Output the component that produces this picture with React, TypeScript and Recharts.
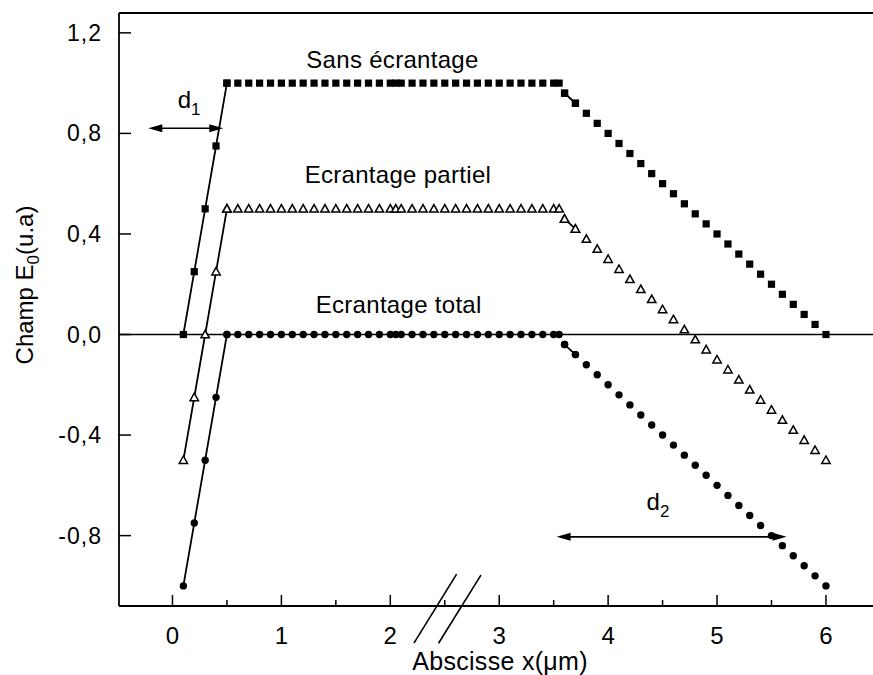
import React from 'react';
import { ScatterChart, Scatter, XAxis, YAxis, ReferenceLine, ReferenceDot } from 'recharts';

// rising edge (0 -> 0.5 µm)
const riseX = [0.1, 0.2, 0.3, 0.4, 0.5];
const riseSans = [0, 0.25, 0.5, 0.75, 1.0];
const risePartiel = [-0.5, -0.25, 0, 0.25, 0.5];
const riseTotal = [-1.0, -0.75, -0.5, -0.25, 0];

// plateau (0.5 -> 3.5 µm)
const plateauX = [
  0.5, 0.6, 0.7, 0.8, 0.9, 1.0, 1.1, 1.2, 1.3, 1.4, 1.5, 1.6, 1.7, 1.8, 1.9, 2.0, 2.05,
  2.1, 2.2, 2.3, 2.4, 2.5, 2.6, 2.7, 2.8, 2.9, 3.0, 3.1, 3.2, 3.3, 3.4, 3.5, 3.55,
];
const plateauSans = [
  1, 1, 1, 1, 1, 1, 1, 1, 1, 1, 1, 1, 1, 1, 1, 1, 1,
  1, 1, 1, 1, 1, 1, 1, 1, 1, 1, 1, 1, 1, 1, 1, 1,
];
const plateauPartiel = [
  0.5, 0.5, 0.5, 0.5, 0.5, 0.5, 0.5, 0.5, 0.5, 0.5, 0.5, 0.5, 0.5, 0.5, 0.5, 0.5, 0.5,
  0.5, 0.5, 0.5, 0.5, 0.5, 0.5, 0.5, 0.5, 0.5, 0.5, 0.5, 0.5, 0.5, 0.5, 0.5, 0.5,
];
const plateauTotal = [
  0, 0, 0, 0, 0, 0, 0, 0, 0, 0, 0, 0, 0, 0, 0, 0, 0,
  0, 0, 0, 0, 0, 0, 0, 0, 0, 0, 0, 0, 0, 0, 0, 0,
];

// falling edge (3.6 -> 6 µm)
const descX = [
  3.6, 3.7, 3.8, 3.9, 4.0, 4.1, 4.2, 4.3, 4.4, 4.5, 4.6, 4.7, 4.8,
  4.9, 5.0, 5.1, 5.2, 5.3, 5.4, 5.5, 5.6, 5.7, 5.8, 5.9, 6.0,
];
const descSans = [
  0.96, 0.92, 0.88, 0.84, 0.8, 0.76, 0.72, 0.68, 0.64, 0.6, 0.56, 0.52, 0.48,
  0.44, 0.4, 0.36, 0.32, 0.28, 0.24, 0.2, 0.16, 0.12, 0.08, 0.04, 0.0,
];
const descPartiel = [
  0.46, 0.42, 0.38, 0.34, 0.3, 0.26, 0.22, 0.18, 0.14, 0.1, 0.06, 0.02, -0.02,
  -0.06, -0.1, -0.14, -0.18, -0.22, -0.26, -0.3, -0.34, -0.38, -0.42, -0.46, -0.5,
];
const descTotal = [
  -0.04, -0.08, -0.12, -0.16, -0.2, -0.24, -0.28, -0.32, -0.36, -0.4, -0.44, -0.48, -0.52,
  -0.56, -0.6, -0.64, -0.68, -0.72, -0.76, -0.8, -0.84, -0.88, -0.92, -0.96, -1.0,
];

const xTicks = [0, 0.5, 1, 1.5, 2, 2.5, 3, 3.5, 4, 4.5, 5, 5.5, 6];
const yTicks = [-0.8, -0.4, 0, 0.4, 0.8, 1.2];
const xDomain = [-0.491, 6.432];
const yDomain = [-1.08, 1.279];

const FONT = '"Liberation Sans", Arial, Helvetica, sans-serif';

const pts = (xs: number[], ys: number[]) => xs.map((x, i) => ({ x, y: ys[i] }));

const Square = (p: any) => <rect x={p.cx - 3.6} y={p.cy - 3.6} width={7.2} height={7.2} fill="#000" />;
const Tri = (p: any) => (
  <polygon
    points={`${p.cx},${p.cy - 4.2} ${p.cx - 4.2},${p.cy + 3.3} ${p.cx + 4.2},${p.cy + 3.3}`}
    fill="#fff"
    stroke="#000"
    strokeWidth={1.5}
  />
);
const Dot = (p: any) => <circle cx={p.cx} cy={p.cy} r={3.7} fill="#000" />;

const XTick = (p: any) => {
  const v = p.payload.value;
  const major = Number.isInteger(v);
  return (
    <g>
      <line x1={p.x} x2={p.x} y1={p.y} y2={p.y - (major ? 11 : 6)} stroke="#000" strokeWidth={1.5} />
      {major && (
        <text x={p.x} y={p.y + 38} textAnchor="middle" fontSize={24} fontFamily={FONT} fill="#000">
          {v}
        </text>
      )}
    </g>
  );
};

const YTick = (p: any) => {
  const v = p.payload.value;
  return (
    <g>
      <line x1={p.x} x2={p.x + 12} y1={p.y} y2={p.y} stroke="#000" strokeWidth={1.5} />
      <text
        x={p.x - 17}
        y={p.y + 8}
        textAnchor="end"
        fontSize={23}
        letterSpacing={1}
        fontFamily={FONT}
        fill="#000"
      >
        {v.toFixed(1).replace('.', ',')}
      </text>
    </g>
  );
};

const arrow = (sub: string, dx: number, dy: number) => (p: any) => {
  const { x1, y1, x2, y2 } = p;
  const L = 14;
  const H = 4;
  return (
    <g>
      <line x1={x1 + 4} y1={y1} x2={x2 - 4} y2={y2} stroke="#000" strokeWidth={1.7} />
      <polygon points={`${x1},${y1} ${x1 + L},${y1 - H} ${x1 + L},${y1 + H}`} fill="#000" />
      <polygon points={`${x2},${y2} ${x2 - L},${y2 - H} ${x2 - L},${y2 + H}`} fill="#000" />
      <text x={(x1 + x2) / 2 + dx} y={y1 + dy} fontSize={24} fontFamily={FONT} fill="#000">
        d
        <tspan fontSize={17} dy={7}>
          {sub}
        </tspan>
      </text>
    </g>
  );
};

const label = (txt: string) => (p: any) => (
  <text x={p.cx} y={p.cy} textAnchor="middle" fontSize={24} letterSpacing={0.3} fontFamily={FONT} fill="#000">
    {txt}
  </text>
);

const lineStyle = { stroke: '#000', strokeWidth: 1.8 };

export default function App() {
  return (
    <div style={{ position: 'absolute', left: 0, top: 0, width: 873, height: 675, background: '#fff' }}>
      <ScatterChart width={873} height={675} margin={{ top: 13, right: 0, bottom: 0, left: 0 }}>
        <XAxis
          type="number"
          dataKey="x"
          domain={xDomain}
          allowDataOverflow
          ticks={xTicks}
          interval={0}
          tickSize={0}
          tickMargin={0}
          tickLine={false}
          tick={<XTick />}
          height={69}
          axisLine={{ stroke: '#000', strokeWidth: 1.8 }}
          label={{
            content: () => (
              <text x={500} y={670} textAnchor="middle" fontSize={25} letterSpacing={0.3} fontFamily={FONT} fill="#000">
                Abscisse x(μm)
              </text>
            ),
          }}
        />
        <YAxis
          type="number"
          dataKey="y"
          domain={yDomain}
          allowDataOverflow
          ticks={yTicks}
          interval={0}
          tickSize={0}
          tickMargin={0}
          tickLine={false}
          tick={<YTick />}
          width={119}
          axisLine={{ stroke: '#000', strokeWidth: 1.8 }}
          label={{
            content: () => (
              <text
                x={33}
                y={285}
                transform="rotate(-90 33 285)"
                textAnchor="middle"
                fontSize={24}
                fontFamily={FONT}
                fill="#000"
              >
                Champ E
                <tspan fontSize={17} dy={6}>
                  0
                </tspan>
                <tspan dy={-6}>(u.a)</tspan>
              </text>
            ),
          }}
        />

        <ReferenceLine y={yDomain[1]} stroke="#000" strokeWidth={1.8} />
        <ReferenceLine y={0} stroke="#000" strokeWidth={1.5} />

        {/* axis break marks */}
        <ReferenceLine
          segment={[{ x: 2.609, y: -0.953 }, { x: 2.217, y: -1.228 }]}
          ifOverflow="visible"
          stroke="#000"
          strokeWidth={1.6}
        />
        <ReferenceLine
          segment={[{ x: 2.832, y: -0.957 }, { x: 2.443, y: -1.228 }]}
          ifOverflow="visible"
          stroke="#000"
          strokeWidth={1.6}
        />

        {/* d1 / d2 arrows */}
        <ReferenceLine
          segment={[{ x: -0.222, y: 0.8205 }, { x: 0.466, y: 0.8205 }]}
          ifOverflow="visible"
          shape={arrow('1', -8, -20)}
        />
        <ReferenceLine
          segment={[{ x: 3.527, y: -0.805 }, { x: 5.639, y: -0.805 }]}
          ifOverflow="visible"
          shape={arrow('2', -25, -27)}
        />

        <ReferenceDot x={2.02} y={1.06} r={0} ifOverflow="visible" shape={label('Sans écrantage')} />
        <ReferenceDot x={2.07} y={0.602} r={0} ifOverflow="visible" shape={label('Ecrantage partiel')} />
        <ReferenceDot x={2.077} y={0.084} r={0} ifOverflow="visible" shape={label('Ecrantage total')} />

        {/* Sans écrantage */}
        <Scatter data={pts(riseX, riseSans)} line={lineStyle} lineType="joint" shape={Square} isAnimationActive={false} />
        <Scatter data={pts(plateauX, plateauSans)} shape={Square} isAnimationActive={false} />
        <Scatter data={pts(descX, descSans)} shape={Square} isAnimationActive={false} />
        <Scatter data={pts(descX.slice(0, 2), descSans.slice(0, 2))} line={lineStyle} lineType="joint" shape={Square} isAnimationActive={false} />

        {/* Ecrantage partiel */}
        <Scatter data={pts(riseX, risePartiel)} line={lineStyle} lineType="joint" shape={Tri} isAnimationActive={false} />
        <Scatter data={pts(plateauX, plateauPartiel)} shape={Tri} isAnimationActive={false} />
        <Scatter data={pts(descX, descPartiel)} shape={Tri} isAnimationActive={false} />
        <Scatter data={pts(descX.slice(0, 2), descPartiel.slice(0, 2))} line={lineStyle} lineType="joint" shape={Tri} isAnimationActive={false} />

        {/* Ecrantage total */}
        <Scatter data={pts(riseX, riseTotal)} line={lineStyle} lineType="joint" shape={Dot} isAnimationActive={false} />
        <Scatter data={pts(plateauX, plateauTotal)} shape={Dot} isAnimationActive={false} />
        <Scatter data={pts(descX, descTotal)} shape={Dot} isAnimationActive={false} />
        <Scatter data={pts(descX.slice(0, 2), descTotal.slice(0, 2))} line={lineStyle} lineType="joint" shape={Dot} isAnimationActive={false} />
      </ScatterChart>
    </div>
  );
}
